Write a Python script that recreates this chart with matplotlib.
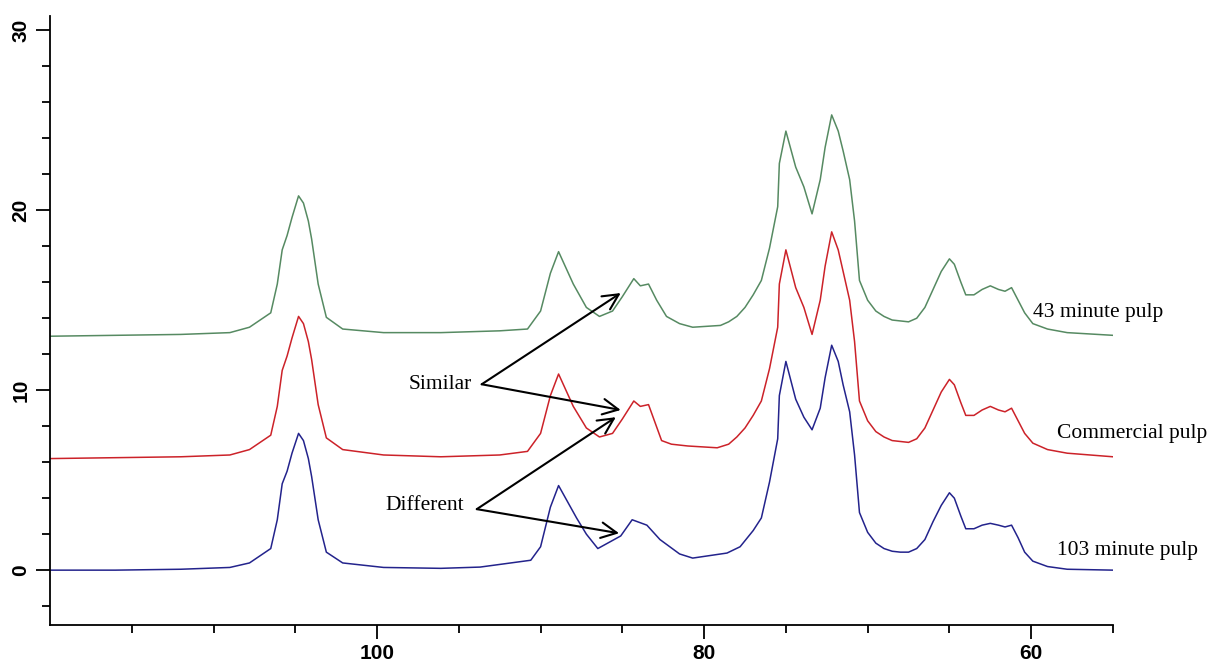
import matplotlib
matplotlib.use('Agg')

import matplotlib.pyplot as plt
from matplotlib.ticker import FixedLocator

# chemical shift (ppm) and intensity
ppm_g = [120, 116, 112, 109, 107.8, 106.5, 106.1, 105.8, 105.5, 105.2, 104.8, 104.5,
         104.2, 104.0, 103.6, 103.1, 102.1, 99.6, 96.1, 92.5, 90.8, 90.0, 89.4, 88.9,
         88.0, 87.2, 86.4, 85.6, 85.0, 84.3, 83.9, 83.4, 82.9, 82.3, 81.5, 80.7, 79.0,
         78.5, 78.0, 77.5, 77.0, 76.5, 76.0, 75.5, 75.4, 75.0, 74.4, 73.9, 73.4, 72.9,
         72.6, 72.2, 71.8, 71.5, 71.1, 70.8, 70.5, 70.0, 69.5, 69.0, 68.5, 68.0, 67.5,
         67.0, 66.5, 66.0, 65.5, 65.0, 64.7, 64.3, 64.0, 63.5, 63.0, 62.5, 62.0, 61.6,
         61.2, 60.8, 60.4, 59.9, 59.0, 57.8, 55]
val_g = [13.0, 13.05, 13.1, 13.2, 13.5, 14.3, 15.9, 17.8, 18.6, 19.6, 20.8, 20.4,
         19.4, 18.4, 15.9, 14.05, 13.4, 13.2, 13.2, 13.3, 13.4, 14.4, 16.5, 17.7,
         15.9, 14.6, 14.1, 14.4, 15.2, 16.2, 15.8, 15.9, 15.0, 14.1, 13.7, 13.5, 13.6,
         13.8, 14.1, 14.6, 15.3, 16.1, 17.9, 20.2, 22.6, 24.4, 22.4, 21.3, 19.8, 21.7,
         23.5, 25.3, 24.4, 23.3, 21.7, 19.4, 16.1, 15.0, 14.4, 14.1, 13.9, 13.85, 13.8,
         14.0, 14.6, 15.6, 16.6, 17.3, 17.0, 16.0, 15.3, 15.3, 15.6, 15.8, 15.6, 15.5,
         15.7, 15.0, 14.3, 13.7, 13.4, 13.2, 13.05]

ppm_r = [120, 116, 112, 109, 107.8, 106.5, 106.1, 105.8, 105.5, 105.2, 104.8, 104.5,
         104.2, 104.0, 103.6, 103.1, 102.1, 99.6, 96.1, 92.5, 90.8, 90.0, 89.4, 88.9,
         88.0, 87.2, 86.4, 85.6, 85.0, 84.3, 83.9, 83.4, 82.6, 82.0, 81.0, 79.2,
         78.5, 78.0, 77.5, 77.0, 76.5, 76.0, 75.5, 75.4, 75.0, 74.4, 73.9, 73.4, 72.9,
         72.6, 72.2, 71.8, 71.5, 71.1, 70.8, 70.5, 70.0, 69.5, 69.0, 68.5, 68.0, 67.5,
         67.0, 66.5, 66.0, 65.5, 65.0, 64.7, 64.3, 64.0, 63.5, 63.0, 62.5, 62.0, 61.6,
         61.2, 60.8, 60.4, 59.9, 59.0, 57.8, 55]
val_r = [6.2, 6.25, 6.3, 6.4, 6.7, 7.5, 9.1, 11.1, 11.9, 12.9, 14.1, 13.7,
         12.7, 11.7, 9.2, 7.35, 6.7, 6.4, 6.3, 6.4, 6.6, 7.6, 9.7, 10.9,
         9.1, 7.9, 7.4, 7.6, 8.4, 9.4, 9.1, 9.2, 7.2, 7.0, 6.9, 6.8,
         7.0, 7.4, 7.9, 8.6, 9.4, 11.2, 13.5, 15.9, 17.8, 15.7, 14.6, 13.1, 15.0,
         16.9, 18.8, 17.8, 16.6, 15.0, 12.7, 9.4, 8.3, 7.7, 7.4, 7.2, 7.15, 7.1,
         7.3, 7.9, 8.9, 9.9, 10.6, 10.3, 9.3, 8.6, 8.6, 8.9, 9.1, 8.9, 8.8,
         9.0, 8.3, 7.6, 7.06, 6.7, 6.5, 6.3]

ppm_b = [120, 116, 112, 109, 107.8, 106.5, 106.1, 105.8, 105.5, 105.2, 104.8, 104.5,
         104.2, 104.0, 103.6, 103.1, 102.1, 99.6, 96.1, 93.7, 90.6, 90.0, 89.4, 88.9,
         87.8, 87.2, 86.5, 85.1, 84.4, 83.5, 82.7, 81.5, 80.7, 78.6, 77.8,
         77.0, 76.5, 76.0, 75.5, 75.4, 75.0, 74.4, 73.9, 73.4, 72.9,
         72.6, 72.2, 71.8, 71.5, 71.1, 70.8, 70.5, 70.0, 69.5, 69.0, 68.5, 68.0, 67.5,
         67.0, 66.5, 66.0, 65.5, 65.0, 64.7, 64.3, 64.0, 63.5, 63.0, 62.5, 62.0, 61.6,
         61.2, 60.8, 60.4, 59.9, 59.0, 57.8, 55]
val_b = [0.0, 0.0, 0.05, 0.15, 0.4, 1.2, 2.8, 4.8, 5.5, 6.5, 7.6, 7.2,
         6.2, 5.2, 2.8, 1.0, 0.4, 0.15, 0.1, 0.17, 0.55, 1.3, 3.5, 4.7,
         2.9, 2.0, 1.2, 1.9, 2.8, 2.5, 1.7, 0.9, 0.67, 0.95, 1.3,
         2.2, 2.9, 4.9, 7.3, 9.7, 11.6, 9.5, 8.5, 7.8, 9.0,
         10.7, 12.5, 11.6, 10.3, 8.8, 6.4, 3.2, 2.1, 1.5, 1.2, 1.05, 1.0, 1.0,
         1.2, 1.7, 2.7, 3.6, 4.3, 4.0, 3.0, 2.3, 2.3, 2.5, 2.6, 2.5, 2.4,
         2.5, 1.8, 1.0, 0.5, 0.2, 0.05, 0.0]

trace_names = ['43 minute pulp', 'Commercial pulp', '103 minute pulp']
trace_colors = ['#568a62', '#cc2229', '#23238c']

x_major = [100, 80, 60]
x_minor = [115, 110, 105, 95, 90, 85, 75, 70, 65, 55]
y_major = [0, 10, 20, 30]
y_minor = [-2, 2, 4, 6, 8, 12, 14, 16, 18, 22, 24, 26, 28]

fig = plt.figure(figsize=(12.1, 6.64), dpi=100)
ax = fig.add_axes([0.0413, 0.0587, 0.8785, 0.9173])

for xs, ys, c in zip([ppm_g, ppm_r, ppm_b], [val_g, val_r, val_b], trace_colors):
    ax.plot(xs, ys, color=c, lw=1.1)

ax.set_xlim(120, 55)
ax.set_ylim(-3.05, 30.8)
ax.xaxis.set_major_locator(FixedLocator(x_major))
ax.xaxis.set_minor_locator(FixedLocator(x_minor))
ax.yaxis.set_major_locator(FixedLocator(y_major))
ax.yaxis.set_minor_locator(FixedLocator(y_minor))
for s in ['top', 'right']:
    ax.spines[s].set_visible(False)
ax.spines['left'].set_linewidth(1.3)
ax.spines['bottom'].set_linewidth(1.3)
ax.tick_params(which='major', length=10, width=1.3, pad=4)
ax.tick_params(which='minor', length=5.5, width=1.3)
for lab in ax.get_xticklabels() + ax.get_yticklabels():
    lab.set_fontfamily('Liberation Sans'); lab.set_fontweight('bold'); lab.set_fontsize(15)
for lab in ax.get_yticklabels():
    lab.set_rotation(90); lab.set_va('center')

serif = dict(family='Liberation Serif', fontsize=15.5)
ax.text(59.9, 14.3, trace_names[0], va='center', ha='left', **serif)
ax.text(58.4, 7.6, trace_names[1], va='center', ha='left', **serif)
ax.text(58.4, 1.1, trace_names[2], va='center', ha='left', **serif)

ax.text(94.2, 10.3, 'Similar', va='center', ha='right', **serif)
ax.text(94.7, 3.6, 'Different', va='center', ha='right', **serif)

arrow = dict(arrowstyle='->', color='black', lw=1.5, mutation_scale=28,
             shrinkA=0, shrinkB=0)
ax.annotate('', xy=(85.1, 15.4), xytext=(93.6, 10.33), arrowprops=arrow)
ax.annotate('', xy=(85.1, 8.9), xytext=(93.6, 10.33), arrowprops=arrow)
ax.annotate('', xy=(85.4, 8.5), xytext=(93.9, 3.39), arrowprops=arrow)
ax.annotate('', xy=(85.2, 2.05), xytext=(93.9, 3.39), arrowprops=arrow)

plt.savefig('out.png', dpi=100)
plt.close()
